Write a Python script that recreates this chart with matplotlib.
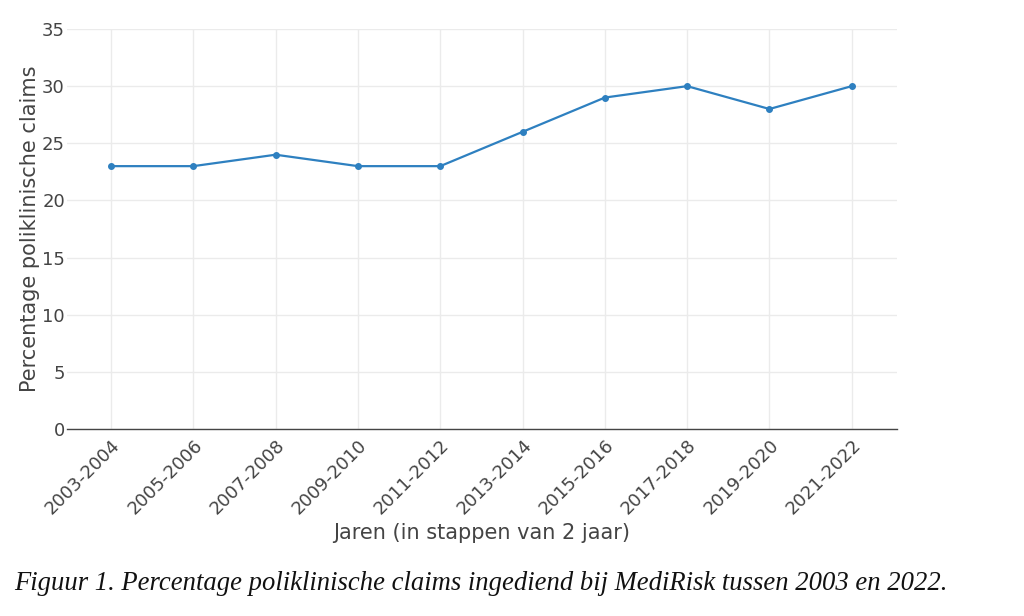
import matplotlib
matplotlib.use("Agg")
import matplotlib.pyplot as plt

periods = ["2003-2004", "2005-2006", "2007-2008", "2009-2010", "2011-2012",
           "2013-2014", "2015-2016", "2017-2018", "2019-2020", "2021-2022"]
percentages = [23, 23, 24, 23, 23, 26, 29, 30, 28, 30]
y_ticks = [0, 5, 10, 15, 20, 25, 30, 35]

W, H = 1024, 616
fig = plt.figure(figsize=(W / 100, H / 100), dpi=100)
ax = fig.add_axes([67 / W, 1 - 429 / H, (897 - 67) / W, (429 - 29) / H])

x = list(range(len(periods)))
ax.plot(x, percentages, color="#2e80c0", linewidth=1.6, marker="o",
        markersize=4, zorder=3)

ax.set_xlim(-0.535, 9.55)
ax.set_ylim(0, 35)
ax.set_yticks(y_ticks)
ax.set_xticks(x)
ax.set_xticklabels(periods, rotation=45, ha="right", rotation_mode="anchor")

tc = "#444444"
ax.tick_params(axis="both", length=0, labelsize=13, colors=tc)
ax.tick_params(axis="y", pad=1.5)
ax.tick_params(axis="x", pad=5)
ax.grid(True, color="#ebebeb", linewidth=1)
ax.set_axisbelow(True)
for s in ["top", "right", "left"]:
    ax.spines[s].set_visible(False)
ax.spines["bottom"].set_color("#444444")
ax.spines["bottom"].set_linewidth(1)

ax.set_ylabel("Percentage poliklinische claims", fontsize=15, color=tc)
ax.yaxis.set_label_coords(-27 / 830, 0.5)
ax.set_xlabel("Jaren (in stappen van 2 jaar)", fontsize=15, color=tc)

fig.text(14 / W, 1 - 583 / H,
         "Figuur 1. Percentage poliklinische claims ingediend bij MediRisk tussen 2003 en 2022.",
         fontsize=19.2, style="italic", family="Liberation Serif", color="#111111",
         va="center", ha="left")

fig.savefig("out.png", dpi=100)
